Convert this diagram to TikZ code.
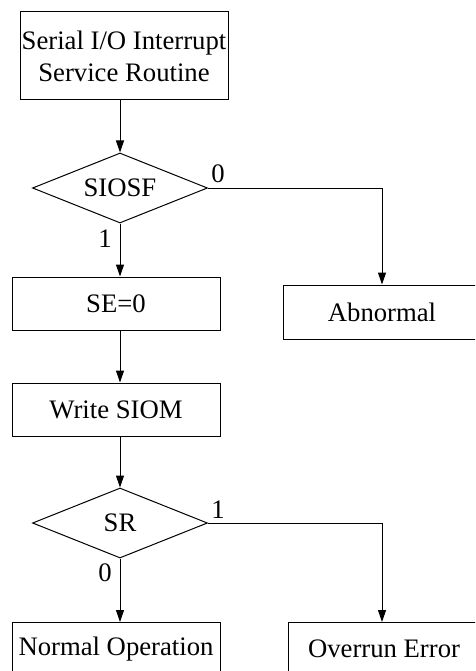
\documentclass[tikz,border=0pt]{standalone}
\usepackage{fontspec}
\setmainfont{Liberation Serif}
\usetikzlibrary{arrows.meta,shapes.geometric}
\newcommand{\flowfont}{\fontsize{26.7}{32}\selectfont}

\begin{document}
\begin{tikzpicture}[x=1pt,y=-1pt,
  box/.style={draw,line width=1pt,minimum width=208pt,minimum height=53pt,
    inner sep=0pt,font=\flowfont},
  test/.style={draw,diamond,aspect=2.5,line width=1pt,minimum width=175pt,
    minimum height=70pt,inner sep=0pt,font=\flowfont},
  flow/.style={line width=1pt,-{Triangle[length=12pt,width=8pt]}},
  bit/.style={inner sep=0pt,font=\flowfont}
]
\useasboundingbox (0,0) rectangle (475,671);
\clip (0,0) rectangle (475,671);
\node[box,minimum height=88pt,align=center] (isr) at (124,56)
  {Serial I/O Interrupt\\Service Routine};
\node[test] (siosf) at (120,188) {SIOSF};
\node[box] (se) at (116,303.5) {SE=0};
\node[box,minimum width=198pt,minimum height=54pt] (abn) at (382,312) {Abnormal};
\node[box] (wr) at (116,409.5) {Write SIOM};
\node[test] (sr) at (120,523) {SR};
\node[box,anchor=north] (norm) at (116,622) {Normal Operation};
\node[box,minimum width=192pt,anchor=north] (ovr) at (384,622) {Overrun Error};
\node[bit] (b0a) at (218,174) {0};
\node[bit] (b1a) at (105,239) {1};
\node[bit] (b1b) at (218,510) {1};
\node[bit] (b0b) at (105,573) {0};
\draw[flow] (isr.south -| siosf.north) -- (siosf.north);
\draw[flow] (siosf.south) -- (se.north -| siosf.south);
\draw[flow] (siosf.east) -| (abn.north);
\draw[flow] (se.south -| siosf.south) -- (wr.north -| siosf.south);
\draw[flow] (wr.south -| sr.north) -- (sr.north);
\draw[flow] (sr.south) -- (norm.north -| sr.south);
\draw[flow] (sr.east) -| (ovr.north -| abn.north);
\end{tikzpicture}
\end{document}
